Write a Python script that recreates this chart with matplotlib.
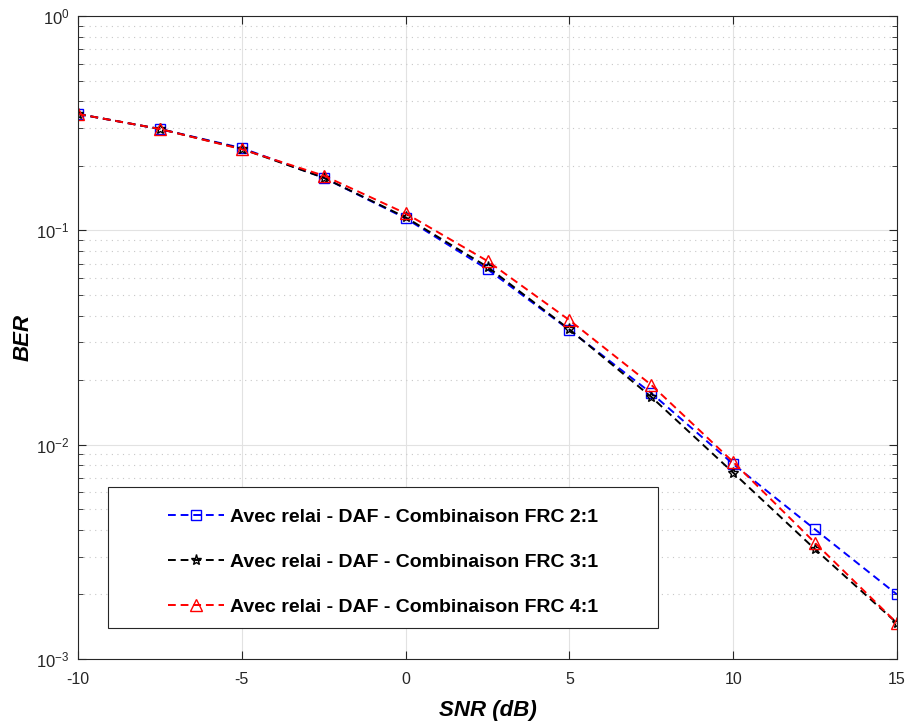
import math
import matplotlib
matplotlib.use("Agg")
import matplotlib.pyplot as plt
from matplotlib.ticker import LogLocator, NullFormatter, FixedLocator, FuncFormatter
from matplotlib.patches import Rectangle

snr = [-10, -7.5, -5, -2.5, 0, 2.5, 5, 7.5, 10, 12.5, 15]
ber_frc21 = [0.349, 0.297, 0.242, 0.176, 0.1138, 0.0658, 0.0343, 0.0174, 0.00812, 0.00402, 0.00200]
ber_frc31 = [0.349, 0.297, 0.240, 0.176, 0.1150, 0.0675, 0.0345, 0.0167, 0.00740, 0.00325, 0.00147]
ber_frc41 = [0.349, 0.297, 0.239, 0.180, 0.1200, 0.0719, 0.0381, 0.0190, 0.00830, 0.00348, 0.00147]
labels = ["Avec relai - DAF - Combinaison FRC 2:1",
          "Avec relai - DAF - Combinaison FRC 3:1",
          "Avec relai - DAF - Combinaison FRC 4:1"]
xticks = [-10, -5, 0, 5, 10, 15]

plt.rcParams['font.family'] = ['Liberation Sans', 'DejaVu Sans']
plt.rcParams['axes.unicode_minus'] = False

fig = plt.figure(figsize=(9.07, 7.23), dpi=100)
ax = fig.add_axes([78/907, 1-659/723, 819/907, 643/723])

common = dict(markerfacecolor='none', markeredgewidth=1.0, linewidth=1.4, dashes=(4, 2.5))
ax.plot(snr, ber_frc21, color='#0000ff', marker='s', markersize=7, label=labels[0], **common)
ax.plot(snr, ber_frc31, color='black', marker='*', markersize=8, label=labels[1], **common)
ax.plot(snr, ber_frc41, color='#ff0000', marker='^', markersize=8, label=labels[2], **common)

ax.set_yscale('log')
ax.set_xlim(-10, 15)
ax.set_ylim(1e-3, 1)
ax.xaxis.set_major_locator(FixedLocator(xticks))
ax.xaxis.set_major_formatter(FuncFormatter(lambda v, p: f"{v:g}"))
ax.yaxis.set_major_locator(LogLocator(base=10, numticks=10))
ax.yaxis.set_major_formatter(FuncFormatter(
    lambda v, p: r"$\mathregular{10^{%d}}$" % round(math.log10(v))))
ax.yaxis.set_minor_locator(LogLocator(base=10, subs=range(2, 10), numticks=100))
ax.yaxis.set_minor_formatter(NullFormatter())

ax.grid(True, which='major', color='#e2e2e2', linestyle='-', linewidth=0.8)
ax.grid(True, which='minor', axis='y', color='#c8c8c8', linestyle=(0, (1, 4)), linewidth=0.8)
ax.set_axisbelow(True)

ax.tick_params(which='both', direction='in', top=True, right=True, colors='#262626',
               labelsize=11.5)
ax.tick_params(axis='x', which='major', pad=9)
ax.tick_params(axis='y', which='major', pad=6, labelsize=12)
ax.tick_params(which='major', length=6)
ax.tick_params(which='minor', length=3.5)
for s in ax.spines.values():
    s.set_color('#262626')
    s.set_linewidth(0.8)

ax.set_xlabel('SNR (dB)', fontsize=16, fontweight='bold', fontstyle='italic', labelpad=10)
ax.set_ylabel('BER', fontsize=16, fontweight='bold', fontstyle='italic', labelpad=2)

bx0, bx1 = 30/819, 580/819
by0, by1 = 31/643, 172/643
ax.add_patch(Rectangle((bx0, by0), bx1 - bx0, by1 - by0, transform=ax.transAxes,
                       facecolor='white', edgecolor='#262626', linewidth=0.8, zorder=4))
leg = ax.legend(loc='center', bbox_to_anchor=((bx0 + bx1) / 2, (by0 + by1) / 2 - 4.5/643),
                prop={'weight': 'bold', 'size': 14}, frameon=False,
                labelspacing=1.4, handlelength=2.9, handletextpad=0.3, borderpad=0)
leg.set_zorder(5)

fig.savefig('out.png', dpi=100)
